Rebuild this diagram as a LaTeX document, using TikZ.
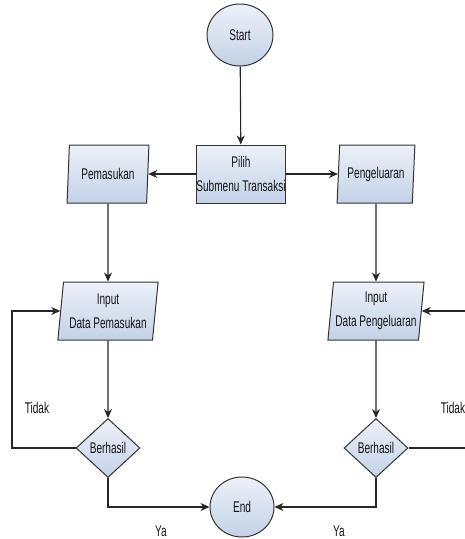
\documentclass[tikz,border=0pt]{standalone}
\usepackage{fontspec}
\setmainfont{Liberation Sans}[FakeStretch=0.65]
\usetikzlibrary{shapes.geometric,arrows.meta}
\definecolor{bordc}{HTML}{333333}
\definecolor{txtc}{HTML}{141414}
\definecolor{topc}{HTML}{EDF1F8}
\definecolor{botc}{HTML}{C3D1E7}
\tikzset{
  base/.style={draw=bordc, line width=1pt, top color=topc, bottom color=botc,
    text=txtc, font=\fontsize{15.5}{24}\selectfont, align=center, inner sep=0pt},
  term/.style={base, ellipse, minimum width=66pt, minimum height=62pt},
  proc/.style={base, rectangle, minimum height=58pt},
  io/.style={base, trapezium, trapezium left angle=82, trapezium right angle=98,
    trapezium stretches=true, minimum height=58pt},
  dec/.style={base, diamond, minimum width=64pt, minimum height=59pt},
  arr/.style={draw=black!85, line width=1.1pt, -{Stealth[length=9pt,width=8pt]}},
  lbl/.style={text=txtc, font=\fontsize{15.5}{18}\selectfont, inner sep=0pt}
}
\begin{document}
\begin{tikzpicture}[x=1pt,y=-1pt]
\useasboundingbox[fill=white] (0,0) rectangle (465,539);
\node[term] (start) at (240,35) {Start};
\node[proc, minimum width=87pt] (pilih) at (241,174) {Pilih\\Submenu Transaksi};
\node[io, minimum width=82pt] (pem) at (108,174) {Pemasukan};
\node[io, minimum width=78pt] (peng) at (376,174) {Pengeluaran};
\node[io, minimum width=101pt] (inpem) at (108,311) {Input\\Data Pemasukan};
\node[io, minimum width=97pt] (inpeng) at (376,311) {Input\\Data Pengeluaran};
\node[dec] (dl) at (108,448) {Berhasil};
\node[dec] (dr) at (376,448) {Berhasil};
\node[term, minimum width=64pt, minimum height=60pt] (end) at (242,507) {End};
\coordinate (fl) at (12,448);
\coordinate (fr) at (467,448);
\draw[arr] (start) -- (pilih);
\draw[arr] (pilih) -- (pem);
\draw[arr] (pilih) -- (peng);
\draw[arr] (pem) -- (inpem);
\draw[arr] (peng) -- (inpeng);
\draw[arr] (inpem) -- (dl);
\draw[arr] (inpeng) -- (dr);
\draw[arr] (dl.south) |- (end);
\draw[arr] (dr.south) |- (end);
\draw[arr] (dl.west) -- (fl) |- (inpem.west);
\draw[arr] (dr.east) -- (fr) |- (inpeng.east);
\node[lbl] (t1) at (37,408) {Tidak};
\node[lbl] (t2) at (453,408) {Tidak};
\node[lbl] (y1) at (161,531) {Ya};
\node[lbl] (y2) at (339,531) {Ya};
\end{tikzpicture}
\end{document}
